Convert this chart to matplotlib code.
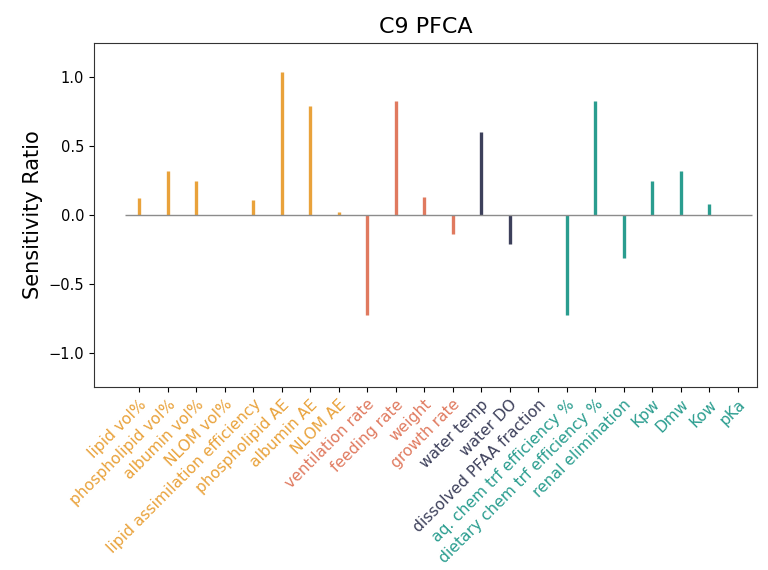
import matplotlib
matplotlib.use("Agg")
import matplotlib.pyplot as plt

labels = [
    "lipid vol%", "phospholipid vol%", "albumin vol%", "NLOM vol%",
    "lipid assimilation efficiency", "phospholipid AE", "albumin AE", "NLOM AE",
    "ventilation rate", "feeding rate", "weight", "growth rate",
    "water temp", "water DO", "dissolved PFAA fraction",
    "aq. chem trf efficiency %", "dietary chem trf efficiency %",
    "renal elimination", "Kpw", "Dmw", "Kow", "pKa",
]
values = [
    0.12, 0.32, 0.25, 0.0,
    0.11, 1.04, 0.79, 0.02,
    -0.73, 0.83, 0.13, -0.14,
    0.60, -0.21, 0.0,
    -0.73, 0.83,
    -0.31, 0.25, 0.32, 0.08, 0.0,
]
groups = [
    "diet", "diet", "diet", "diet",
    "diet", "diet", "diet", "diet",
    "fish", "fish", "fish", "fish",
    "water", "water", "water",
    "chem", "chem",
    "chem", "chem", "chem", "chem", "chem",
]
palette = {"diet": "#E9A23B", "fish": "#E07A5F", "water": "#3D405B", "chem": "#2A9D8F"}

fig = plt.figure(figsize=(7.68, 5.7), dpi=100)
ax = fig.add_axes([0.1224, 0.321, 0.8633, 0.6036])

x = list(range(len(labels)))
colors = [palette[g] for g in groups]
ax.vlines(x, 0, values, colors=colors, linewidth=2.4)
ax.hlines(0, -0.5, len(labels) - 0.5, colors="#8c8c8c", linewidth=1)

ax.set_xlim(-1.58, 21.68)
ax.set_ylim(-1.25, 1.25)
ax.set_yticks([-1.0, -0.5, 0.0, 0.5, 1.0])
ax.set_xticks(x)
ax.set_xticklabels(labels, rotation=45, ha="right", rotation_mode="anchor", fontsize=11.2)
for tick, c in zip(ax.get_xticklabels(), colors):
    tick.set_color(c)
ax.tick_params(axis="y", labelsize=10.5)
ax.set_ylabel("Sensitivity Ratio", fontsize=15)
ax.set_title("C9 PFCA", fontsize=16, pad=7)
for s in ax.spines.values():
    s.set_color("#333333")

fig.savefig("out.png", dpi=100)
